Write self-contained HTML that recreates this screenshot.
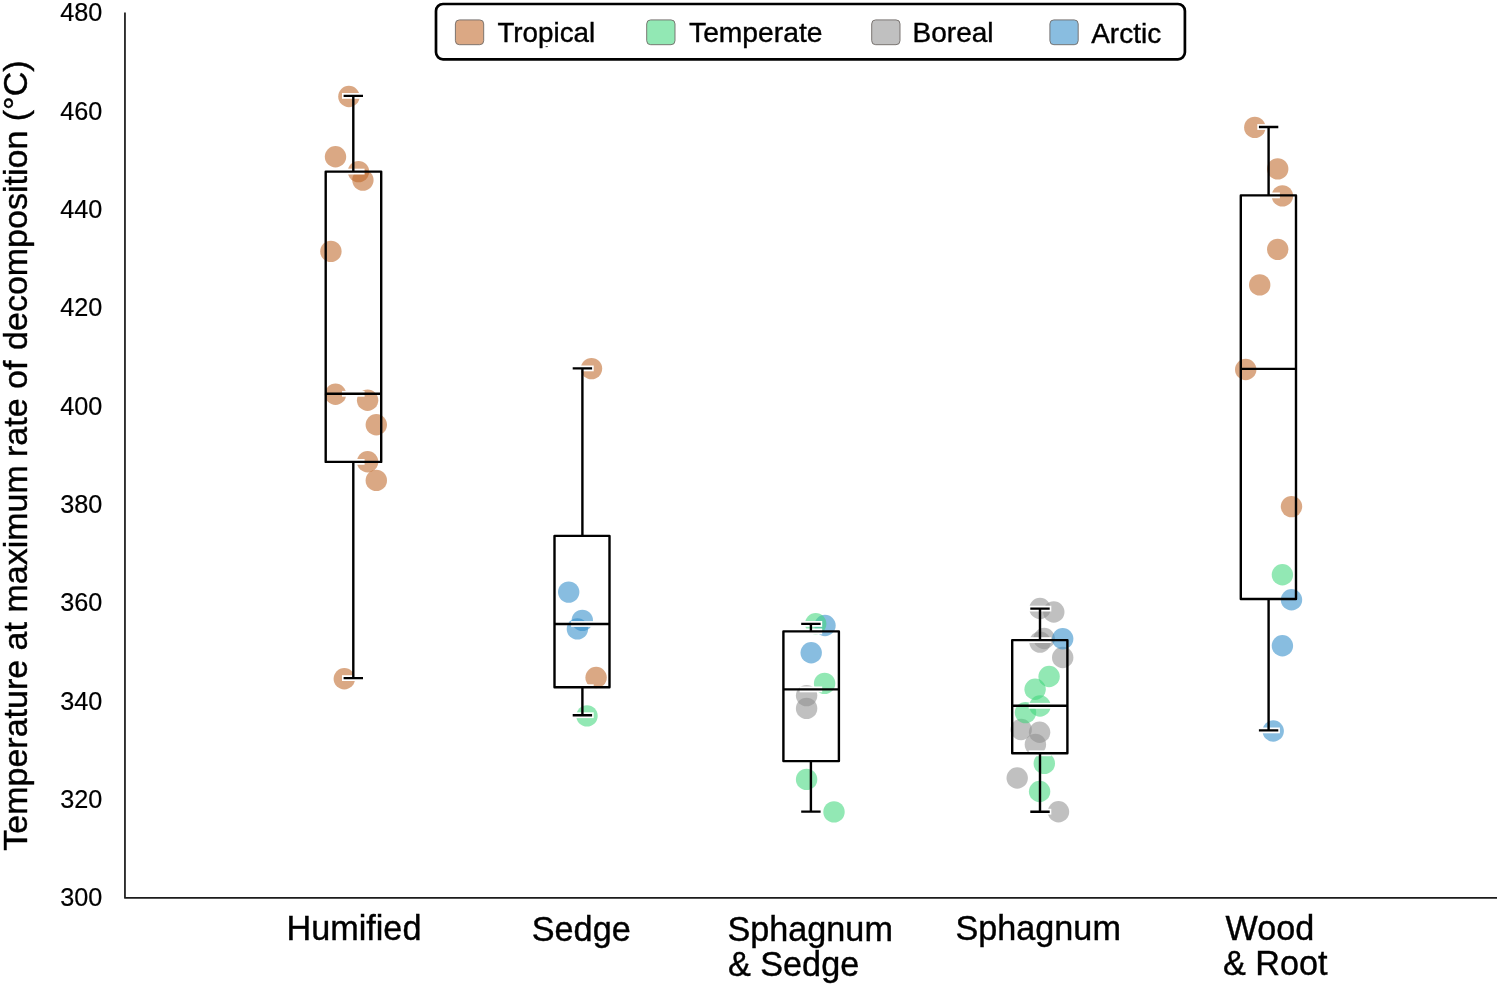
<!DOCTYPE html>
<html lang="en"><head><meta charset="utf-8"><title>Temperature at maximum rate of decomposition</title>
<style>
html,body{margin:0;padding:0;background:#fff;overflow:hidden}
svg{display:block}
text{font-family:"Liberation Sans",Arial,Helvetica,sans-serif;fill:#000;stroke:#000;stroke-width:0.4px}
.tick{font-size:26px;text-anchor:end;stroke-width:0.2px}
.cat{font-size:34.2px}
.leg{font-size:27.9px}
.ytitle{font-size:34px}
</style></head><body>
<svg width="1500" height="986" viewBox="0 0 1500 986">
<rect width="1500" height="986" fill="#fff"/>
<path d="M124.95 12.6V897.9H1497" fill="none" stroke="#1c1c1c" stroke-width="1.75" stroke-linejoin="round"/>
<text class="tick" transform="translate(102.4,21.2) scale(0.972,1)">480</text>
<text class="tick" transform="translate(102.4,119.6) scale(0.972,1)">460</text>
<text class="tick" transform="translate(102.4,217.9) scale(0.972,1)">440</text>
<text class="tick" transform="translate(102.4,316.3) scale(0.972,1)">420</text>
<text class="tick" transform="translate(102.4,414.6) scale(0.972,1)">400</text>
<text class="tick" transform="translate(102.4,512.9) scale(0.972,1)">380</text>
<text class="tick" transform="translate(102.4,611.3) scale(0.972,1)">360</text>
<text class="tick" transform="translate(102.4,709.6) scale(0.972,1)">340</text>
<text class="tick" transform="translate(102.4,808.0) scale(0.972,1)">320</text>
<text class="tick" transform="translate(102.4,906.3) scale(0.972,1)">300</text>
<text class="ytitle" transform="translate(27.3,850.7) rotate(-90)">Temperature at maximum<tspan dx="-1.2"> rate of</tspan><tspan dx="1.2"> decomposition (°C)</tspan></text>
<g fill-opacity="0.56">
<circle cx="348.9" cy="96.5" r="10.7" fill="#bd6423"/>
<circle cx="335.5" cy="156.8" r="10.7" fill="#bd6423"/>
<circle cx="358.5" cy="171.6" r="10.7" fill="#bd6423"/>
<circle cx="362.9" cy="180.1" r="10.7" fill="#bd6423"/>
<circle cx="330.9" cy="251.4" r="10.7" fill="#bd6423"/>
<circle cx="335.5" cy="394.2" r="10.7" fill="#bd6423"/>
<circle cx="367.6" cy="400.3" r="10.7" fill="#bd6423"/>
<circle cx="376.3" cy="424.8" r="10.7" fill="#bd6423"/>
<circle cx="367.6" cy="461.8" r="10.7" fill="#bd6423"/>
<circle cx="376.3" cy="480.4" r="10.7" fill="#bd6423"/>
<circle cx="344.3" cy="678.8" r="10.7" fill="#bd6423"/>
<circle cx="591.5" cy="368.6" r="10.7" fill="#bd6423"/>
<circle cx="596.1" cy="677.5" r="10.7" fill="#bd6423"/>
<circle cx="568.7" cy="592.1" r="10.7" fill="#2b89c8"/>
<circle cx="582.3" cy="620.4" r="10.7" fill="#2b89c8"/>
<circle cx="577.4" cy="628.9" r="10.7" fill="#2b89c8"/>
<circle cx="587.0" cy="715.9" r="10.7" fill="#3cd679"/>
<circle cx="806.6" cy="695.6" r="10.7" fill="#8e8e8e"/>
<circle cx="806.6" cy="708.4" r="10.7" fill="#8e8e8e"/>
<circle cx="825.0" cy="625.5" r="10.7" fill="#2b89c8"/>
<circle cx="811.2" cy="652.8" r="10.7" fill="#2b89c8"/>
<circle cx="815.7" cy="623.7" r="10.7" fill="#3cd679"/>
<circle cx="824.6" cy="683.4" r="10.7" fill="#3cd679"/>
<circle cx="806.6" cy="779.4" r="10.7" fill="#3cd679"/>
<circle cx="834.0" cy="811.9" r="10.7" fill="#3cd679"/>
<circle cx="1040.0" cy="608.5" r="10.7" fill="#8e8e8e"/>
<circle cx="1053.8" cy="612.0" r="10.7" fill="#8e8e8e"/>
<circle cx="1044.2" cy="638.5" r="10.7" fill="#8e8e8e"/>
<circle cx="1040.0" cy="642.1" r="10.7" fill="#8e8e8e"/>
<circle cx="1062.7" cy="657.5" r="10.7" fill="#8e8e8e"/>
<circle cx="1021.2" cy="729.5" r="10.7" fill="#8e8e8e"/>
<circle cx="1039.6" cy="732.2" r="10.7" fill="#8e8e8e"/>
<circle cx="1035.4" cy="744.4" r="10.7" fill="#8e8e8e"/>
<circle cx="1017.2" cy="778.0" r="10.7" fill="#8e8e8e"/>
<circle cx="1058.5" cy="811.8" r="10.7" fill="#8e8e8e"/>
<circle cx="1062.7" cy="638.8" r="10.7" fill="#2b89c8"/>
<circle cx="1049.1" cy="676.5" r="10.7" fill="#3cd679"/>
<circle cx="1035.1" cy="689.3" r="10.7" fill="#3cd679"/>
<circle cx="1040.0" cy="706.0" r="10.7" fill="#3cd679"/>
<circle cx="1025.5" cy="712.6" r="10.7" fill="#3cd679"/>
<circle cx="1044.3" cy="763.4" r="10.7" fill="#3cd679"/>
<circle cx="1039.6" cy="791.5" r="10.7" fill="#3cd679"/>
<circle cx="1254.8" cy="127.4" r="10.7" fill="#bd6423"/>
<circle cx="1277.7" cy="168.9" r="10.7" fill="#bd6423"/>
<circle cx="1282.4" cy="195.9" r="10.7" fill="#bd6423"/>
<circle cx="1277.7" cy="249.4" r="10.7" fill="#bd6423"/>
<circle cx="1259.7" cy="284.9" r="10.7" fill="#bd6423"/>
<circle cx="1245.7" cy="369.5" r="10.7" fill="#bd6423"/>
<circle cx="1291.5" cy="506.6" r="10.7" fill="#bd6423"/>
<circle cx="1291.5" cy="599.7" r="10.7" fill="#2b89c8"/>
<circle cx="1282.4" cy="645.7" r="10.7" fill="#2b89c8"/>
<circle cx="1273.2" cy="731.0" r="10.7" fill="#2b89c8"/>
<circle cx="1282.4" cy="574.7" r="10.7" fill="#3cd679"/>
</g>
<g stroke="#fff" stroke-width="5.8" fill="none" stroke-linecap="butt">
<path d="M342.0 95.9H364.6"/>
<path d="M342.0 171.6H364.6"/>
<path d="M342.0 393.8H364.6"/>
<path d="M342.0 461.9H364.6"/>
<path d="M342.0 678.1H364.6"/>
<path d="M571.1 368.4H593.7"/>
<path d="M571.1 535.9H593.7"/>
<path d="M571.1 624.0H593.7"/>
<path d="M571.1 687.2H593.7"/>
<path d="M571.1 715.2H593.7"/>
<path d="M799.6 623.9H822.2"/>
<path d="M799.6 631.4H822.2"/>
<path d="M799.6 689.4H822.2"/>
<path d="M799.6 761.1H822.2"/>
<path d="M799.6 811.6H822.2"/>
<path d="M1028.7 608.6H1051.3"/>
<path d="M1028.7 640.1H1051.3"/>
<path d="M1028.7 705.8H1051.3"/>
<path d="M1028.7 753.3H1051.3"/>
<path d="M1028.7 811.7H1051.3"/>
<path d="M1257.3 127.0H1279.9"/>
<path d="M1257.3 195.4H1279.9"/>
<path d="M1257.3 368.9H1279.9"/>
<path d="M1257.3 599.0H1279.9"/>
<path d="M1257.3 730.4H1279.9"/>
</g>
<g stroke="#000" stroke-width="2.4" fill="none" stroke-linejoin="round">
<rect x="325.7" y="171.6" width="55.5" height="290.3"/>
<path d="M325.7 393.8H381.2M353.3 95.9V171.6M353.3 461.9V678.1M343.6 95.9H363.0M343.6 678.1H363.0"/>
<rect x="554.5" y="535.9" width="55.0" height="151.3"/>
<path d="M554.5 624.0H609.5M582.4 368.4V535.9M582.4 687.2V715.2M572.7 368.4H592.1M572.7 715.2H592.1"/>
<rect x="783.4" y="631.4" width="55.5" height="129.7"/>
<path d="M783.4 689.4H838.9M810.9 623.9V631.4M810.9 761.1V811.6M801.2 623.9H820.6M801.2 811.6H820.6"/>
<rect x="1012.2" y="640.1" width="55.2" height="113.2"/>
<path d="M1012.2 705.8H1067.4M1040.0 608.6V640.1M1040.0 753.3V811.7M1030.3 608.6H1049.7M1030.3 811.7H1049.7"/>
<rect x="1240.8" y="195.4" width="55.2" height="403.6"/>
<path d="M1240.8 368.9H1296.0M1268.6 127.0V195.4M1268.6 599.0V730.4M1258.9 127.0H1278.3M1258.9 730.4H1278.3"/>
</g>
<text class="cat" x="286.5" y="939.8">Humified</text>
<text class="cat" x="531.8" y="940.6">Sedge</text>
<text class="cat" x="727.5" y="940.6">Sphagnum</text>
<text class="cat" x="728.0" y="975.6">&amp; Sedge</text>
<text class="cat" x="955.5" y="940.0">Sphagnum</text>
<text class="cat" x="1225.5" y="940.3">Wood</text>
<text class="cat" x="1223.0" y="975.0">&amp; Root</text>
<rect x="436.0" y="4.0" width="748.9" height="55.3" rx="7" ry="7" fill="#fff" stroke="#000" stroke-width="2.7"/>
<rect x="455.4" y="19.9" width="28.3" height="24.8" rx="4" fill="#dba884" stroke="#6f6a66" stroke-width="0.9"/>
<text class="leg" style="font-size:27.8px" x="497.4" y="41.9">Tropical</text>
<rect x="646.7" y="19.9" width="28.3" height="24.8" rx="4" fill="#92e8b4" stroke="#6f6a66" stroke-width="0.9"/>
<text class="leg" style="font-size:28.25px" x="689.0" y="41.9">Temperate</text>
<rect x="871.7" y="19.9" width="28.3" height="24.8" rx="4" fill="#c0c0c0" stroke="#6f6a66" stroke-width="0.9"/>
<text class="leg" style="font-size:28.0px" x="912.6" y="41.9">Boreal</text>
<rect x="1049.9" y="19.9" width="28.3" height="24.8" rx="4" fill="#89bde0" stroke="#6f6a66" stroke-width="0.9"/>
<text class="leg" style="font-size:28.0px" x="1091.2" y="42.9">Arctic</text>
<rect x="545.6" y="46.1" width="2.2" height="1" fill="#333"/>
</svg>
</body></html>
